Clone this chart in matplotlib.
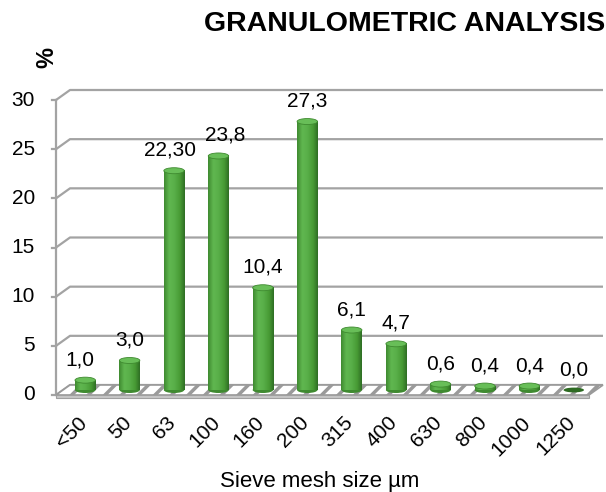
import numpy as np
import matplotlib
matplotlib.use("Agg")
import matplotlib.pyplot as plt
from matplotlib.colors import LinearSegmentedColormap
from matplotlib.patches import Ellipse, Polygon

plt.rcParams['font.family'] = ['Liberation Sans', 'DejaVu Sans']
plt.rcParams['hatch.color'] = '#b8b8b8'
plt.rcParams['hatch.linewidth'] = 2.5

sizes = ['<50', '50', '63', '100', '160', '200', '315', '400', '630', '800', '1000', '1250']
percent = [1.0, 3.0, 22.30, 23.8, 10.4, 27.3, 6.1, 4.7, 0.6, 0.4, 0.4, 0.0]
value_labels = ['1,0', '3,0', '22,30', '23,8', '10,4', '27,3', '6,1', '4,7', '0,6', '0,4', '0,4', '0,0']
yticks = [0, 5, 10, 15, 20, 25, 30]

W, H = 606, 492
fig = plt.figure(figsize=(W / 100, H / 100), dpi=100)

# axes frame = middle depth of the 3d box (bars stand here)
left, right, y0, y30 = 63, 596, 390, 95
ax = fig.add_axes([left / W, (H - y0) / H, (right - left) / W, (y0 - y30) / H])
n = len(sizes)
ax.set_xlim(-0.5, n - 0.5)
ax.set_ylim(0, 30)
ax.axis('off')

# pixel -> data helpers
ux = n / (right - left)
uy = 30 / (y0 - y30)
dxb, dyb = 7 * ux, 5 * uy      # back wall offset
grid_c = '#a3a3a3'
fs = 15

# back wall gridlines + connectors to front axis
for t in yticks:
    ax.plot([-0.5 - dxb, -0.5 + dxb, n - 0.5 + dxb], [t - dyb, t + dyb, t + dyb],
            color=grid_c, lw=1.6, clip_on=False, zorder=1, solid_capstyle='butt')
    ax.plot([-0.5 - dxb - 4 * ux, -0.5 - dxb], [t - dyb, t - dyb],
            color=grid_c, lw=1.6, clip_on=False, zorder=1)
    ax.text(-0.5 - dxb - 21 * ux, t - dyb, str(t), ha='right', va='center',
            fontsize=fs, color='black')
# front vertical axis
ax.plot([-0.5 - dxb, -0.5 - dxb], [0 - dyb, 30 - dyb], color=grid_c, lw=1.6,
        clip_on=False, zorder=1)

# floor
floor = Polygon([(-0.5 - dxb, -dyb), (-0.5 + dxb, dyb), (n - 0.5 + dxb, dyb),
                 (n - 0.5 - dxb, -dyb)], closed=True, facecolor='white',
                edgecolor='#9a9a9a', hatch='//', lw=1.2, clip_on=False, zorder=2)
ax.add_patch(floor)
ax.add_patch(Polygon([(-0.5 - dxb, -dyb), (n - 0.5 - dxb, -dyb),
                      (n - 0.5 - dxb, -dyb - 3 * uy), (-0.5 - dxb, -dyb - 3 * uy)],
                     closed=True, facecolor='#c8c8c8', edgecolor='#a0a0a0', lw=0.8,
                     clip_on=False, zorder=2))

# cylinders
cyl = LinearSegmentedColormap.from_list(
    'cyl', [(0, '#3f8a30'), (0.25, '#60b750'), (0.5, '#59af49'),
            (0.78, '#479a34'), (1, '#2f6e24')])
grad = np.linspace(0, 1, 64)[None, :]
bw = 0.46
cap = 6 * uy
for i, v in enumerate(percent):
    if v > 0:
        ax.add_patch(Ellipse((i, 0), bw, cap, facecolor='#3f8a30', edgecolor='none',
                             zorder=3, clip_on=False))
        ax.imshow(grad, extent=[i - bw / 2, i + bw / 2, 0, v], aspect='auto',
                  cmap=cyl, zorder=4, clip_on=False, interpolation='bilinear')
        ax.add_patch(Ellipse((i, v), bw, cap, facecolor='#68be58', edgecolor='#3f8a30',
                             lw=0.6, zorder=5, clip_on=False))
    else:
        ax.add_patch(Ellipse((i, 0), bw, cap * 0.8, facecolor='#2e6b23',
                             edgecolor='none', zorder=5, clip_on=False))

ax.set_xlim(-0.5, n - 0.5)
ax.set_ylim(0, 30)

# value labels
nudge = {0: -5, 2: -4, 3: 7}
for i, (v, s) in enumerate(zip(percent, value_labels)):
    ax.annotate(s, (i, v), xytext=(nudge.get(i, 0), 11), textcoords='offset pixels',
                ha='center', va='bottom', fontsize=fs)

# category labels
for i, s in enumerate(sizes):
    ax.annotate(s, (i, 0), xytext=(-8, -23), textcoords='offset pixels',
                ha='right', va='top', rotation=45, rotation_mode='anchor',
                fontsize=fs)

fig.text(605 / W, 1 - 24 / H, 'GRANULOMETRIC ANALYSIS', ha='right', va='center',
         fontsize=20.5, fontweight='bold')
fig.text(47 / W, 1 - 57 / H, '%', ha='center', va='center', rotation=90,
         fontsize=17, fontweight='bold')
fig.text(320 / W, 1 - 487 / H, 'Sieve mesh size µm', ha='center', va='baseline',
         fontsize=16)

fig.savefig('out.png', dpi=100)
